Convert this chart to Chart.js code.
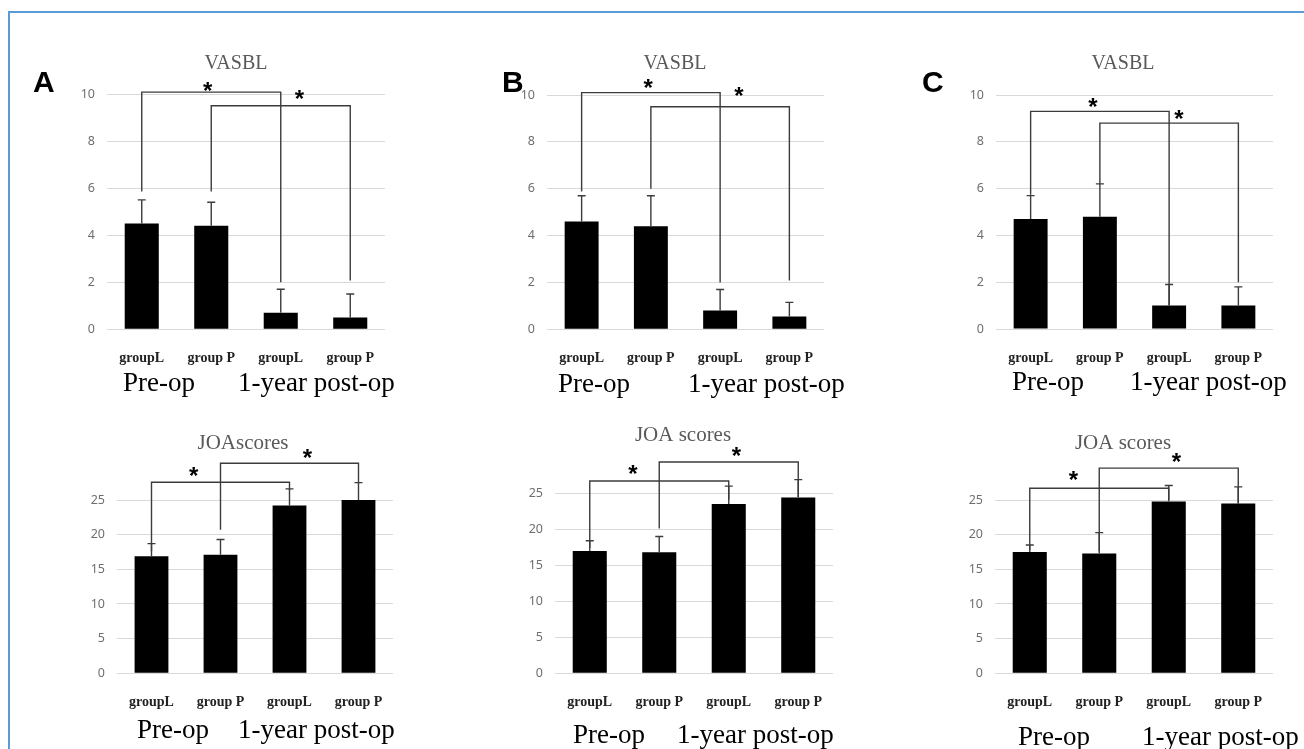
<!DOCTYPE html>
<html lang="en">
<head>
<meta charset="UTF-8">
<title>VASBL and JOA scores, groups L and P</title>
<script src="https://cdn.jsdelivr.net/npm/chart.js"></script>
<style>
  body { margin: 0; background: #fff; }
  #fig { position: relative; width: 1304px; height: 749px; overflow: hidden; background: #fff; }
  .frame { position: absolute; left: 8px; top: 11px; width: 1400px; height: 800px;
           border-left: 2.5px solid #5b9bd5; border-top: 2.5px solid #5b9bd5; }
  canvas { position: absolute; }
  .letter { position: absolute; font: bold 30px "Liberation Sans", Arial, sans-serif; line-height: 30px; color: #000; }
  .period { position: absolute; font: 27px "Liberation Serif", "Times New Roman", serif; line-height: 27px;
            color: #000; white-space: nowrap; }
</style>
</head>
<body>
<div id="fig">
  <div class="frame"></div>
  <canvas id="aTop"></canvas>
  <canvas id="bTop"></canvas>
  <canvas id="cTop"></canvas>
  <canvas id="aBot"></canvas>
  <canvas id="bBot"></canvas>
  <canvas id="cBot"></canvas>
</div>

<script>
// categories (pre-op pair, then 1-year post-op pair)
const groups = ['groupL', 'group P', 'groupL', 'group P'];

// VASBL means and SD (upper error bar only)
const vasA = [4.5, 4.4, 0.7, 0.5];
const vasSdA = [1.0, 1.0, 1.0, 1.0];
const vasB = [4.6, 4.4, 0.8, 0.55];
const vasSdB = [1.1, 1.3, 0.9, 0.6];
const vasC = [4.7, 4.8, 1.0, 1.0];
const vasSdC = [1.0, 1.4, 0.9, 0.8];

// JOA score means and SD
const joaA = [16.9, 17.1, 24.2, 25.0];
const joaSdA = [1.8, 2.2, 2.4, 2.5];
const joaB = [17.0, 16.8, 23.5, 24.4];
const joaSdB = [1.4, 2.2, 2.5, 2.5];
const joaC = [17.5, 17.3, 24.8, 24.5];
const joaSdC = [1.0, 3.0, 2.3, 2.4];

// significance brackets: [fromBar, toBar, startValue, topValue, endValue, starBar, starValue]
const vasBrkA = [[0, 2, 5.86, 10.08, 2.0, 0.95, 10.33], [1, 3, 5.86, 9.5, 2.07, 2.27, 9.97]];
const vasBrkB = [[0, 2, 5.88, 10.1, 2.0, 0.96, 10.5], [1, 3, 6.0, 9.5, 2.08, 2.27, 10.14]];
const vasBrkC = [[0, 2, 5.74, 9.3, 1.0, 0.9, 9.66], [1, 3, 6.2, 8.8, 2.0, 2.14, 9.16]];
const joaBrkA = [[0, 2, 17.6, 27.56, 26.4, 0.61, 29.1], [1, 3, 20.7, 30.3, 27.4, 2.26, 31.75]];
const joaBrkB = [[0, 2, 17.4, 26.7, 24.1, 0.62, 28.24], [1, 3, 20.1, 29.35, 24.5, 2.11, 30.8]];
const joaBrkC = [[0, 2, 17.8, 26.7, 25.0, 0.63, 28.5], [1, 3, 17.6, 29.6, 24.5, 2.11, 31.2]];

const vasTicks = { max: 10, step: 2 };
const joaTicks = { max: 25, step: 5 };

const SERIF = '"Liberation Serif", "Times New Roman", serif';
const LINE = '#3c3c3c';

// title, error bars, brackets and stars, drawn through the chart's own scales
function annotations(sd, brackets, title, titleSize, tx, ty) {
  return {
    id: 'annot',
    afterDatasetsDraw(chart) {
      const { ctx, scales: { x, y } } = chart;
      const vals = chart.data.datasets[0].data;
      ctx.save();

      ctx.font = titleSize + 'px ' + SERIF;
      ctx.fillStyle = '#595959';
      ctx.textAlign = 'center';
      ctx.textBaseline = 'middle';
      ctx.fillText(title, tx, ty);

      ctx.strokeStyle = LINE;
      ctx.lineWidth = 1.4;
      vals.forEach((v, i) => {
        const px = x.getPixelForValue(i);
        const top = y.getPixelForValue(v + sd[i]);
        ctx.beginPath();
        ctx.moveTo(px, y.getPixelForValue(v));
        ctx.lineTo(px, top);
        ctx.moveTo(px - 4, top);
        ctx.lineTo(px + 4, top);
        ctx.stroke();
      });

      ctx.font = 'bold 24px "Liberation Sans", Arial, sans-serif';
      ctx.fillStyle = '#000';
      ctx.textBaseline = 'alphabetic';
      brackets.forEach(([a, b, s, t, e, sx, sy]) => {
        const xa = x.getPixelForValue(a), xb = x.getPixelForValue(b);
        ctx.beginPath();
        ctx.moveTo(xa, y.getPixelForValue(s));
        ctx.lineTo(xa, y.getPixelForValue(t));
        ctx.lineTo(xb, y.getPixelForValue(t));
        ctx.lineTo(xb, y.getPixelForValue(e));
        ctx.stroke();
        const m = ctx.measureText('*');
        const off = (m.actualBoundingBoxAscent - m.actualBoundingBoxDescent) / 2;
        ctx.fillText('*', x.getPixelForValue(sx), y.getPixelForValue(sy) + off);
      });
      ctx.restore();
    }
  };
}

// g: target plot box (L,T,R,B) and title centre (tx,ty), page pixels
function panel(id, g, title, titleSize, values, sd, ticks, brackets) {
  const left = g.L - 60, right = g.R + 12;
  const top = Math.round(g.ty - 22);
  const bottom = Math.round(g.B + 45);
  const cv = document.getElementById(id);
  cv.width = right - left;
  cv.height = bottom - top;
  cv.style.left = left + 'px';
  cv.style.top = top + 'px';

  new Chart(cv, {
    type: 'bar',
    data: {
      labels: groups,
      datasets: [{
        data: values,
        backgroundColor: '#000',
        borderWidth: 0,
        barPercentage: 0.49,
        categoryPercentage: 1
      }]
    },
    options: {
      responsive: false,
      animation: false,
      layout: { padding: { left: 0, right: 12, top: g.T - top, bottom: 0 } },
      plugins: {
        legend: { display: false },
        tooltip: { enabled: false },
        title: { display: false }
      },
      scales: {
        x: {
          grid: { display: false },
          border: { display: false },
          ticks: { color: '#222', padding: 13, font: { family: SERIF, size: 14, weight: 'bold' } },
          afterFit: s => { s.height = bottom - g.B; }
        },
        y: {
          min: 0,
          max: ticks.max,
          grid: { color: '#d9d9d9', lineWidth: 1, drawTicks: false },
          border: { display: false },
          ticks: { stepSize: ticks.step, color: '#6e6e6e', padding: 12,
                   font: { family: '"Noto Sans", "DejaVu Sans", sans-serif', size: 12.5 } },
          afterFit: s => { s.width = 60; }
        }
      }
    },
    plugins: [annotations(sd, brackets, title, titleSize, g.tx - left, g.ty - top)]
  });
}

panel('aTop', { L: 107, R: 385, T: 94, B: 329.3, tx: 236, ty: 64 }, 'VASBL', 20, vasA, vasSdA, vasTicks, vasBrkA);
panel('bTop', { L: 547, R: 824, T: 95, B: 329.3, tx: 675, ty: 64 }, 'VASBL', 20, vasB, vasSdB, vasTicks, vasBrkB);
panel('cTop', { L: 996, R: 1273, T: 95, B: 329, tx: 1123, ty: 64 }, 'VASBL', 20, vasC, vasSdC, vasTicks, vasBrkC);
panel('aBot', { L: 117, R: 393, T: 500, B: 673.3, tx: 243, ty: 443 }, 'JOAscores', 21, joaA, joaSdA, joaTicks, joaBrkA);
panel('bBot', { L: 555, R: 833, T: 493.3, B: 673.3, tx: 683, ty: 435 }, 'JOA scores', 21, joaB, joaSdB, joaTicks, joaBrkB);
panel('cBot', { L: 995, R: 1273, T: 500, B: 673.3, tx: 1123, ty: 443 }, 'JOA scores', 21, joaC, joaSdC, joaTicks, joaBrkC);

// panel letters and the period captions under each chart (x, baseline)
const fig = document.getElementById('fig');
function text(cls, str, x, baseline, asc) {
  const d = document.createElement('div');
  d.className = cls;
  d.textContent = str;
  d.style.left = x + 'px';
  d.style.top = (baseline - asc) + 'px';
  fig.appendChild(d);
}
[['A', 33], ['B', 502], ['C', 922]].forEach(([s, x]) => text('letter', s, x, 92, 25.4));
[[123, 238, 392], [558, 688, 393], [1012, 1130, 391], [137, 238, 739], [573, 677, 744], [1018, 1142, 746]]
  .forEach(([x1, x2, b]) => {
    text('period', 'Pre-op', x1, b, 22.6);
    text('period', '1-year post-op', x2, b, 22.6);
  });
</script>
</body>
</html>
